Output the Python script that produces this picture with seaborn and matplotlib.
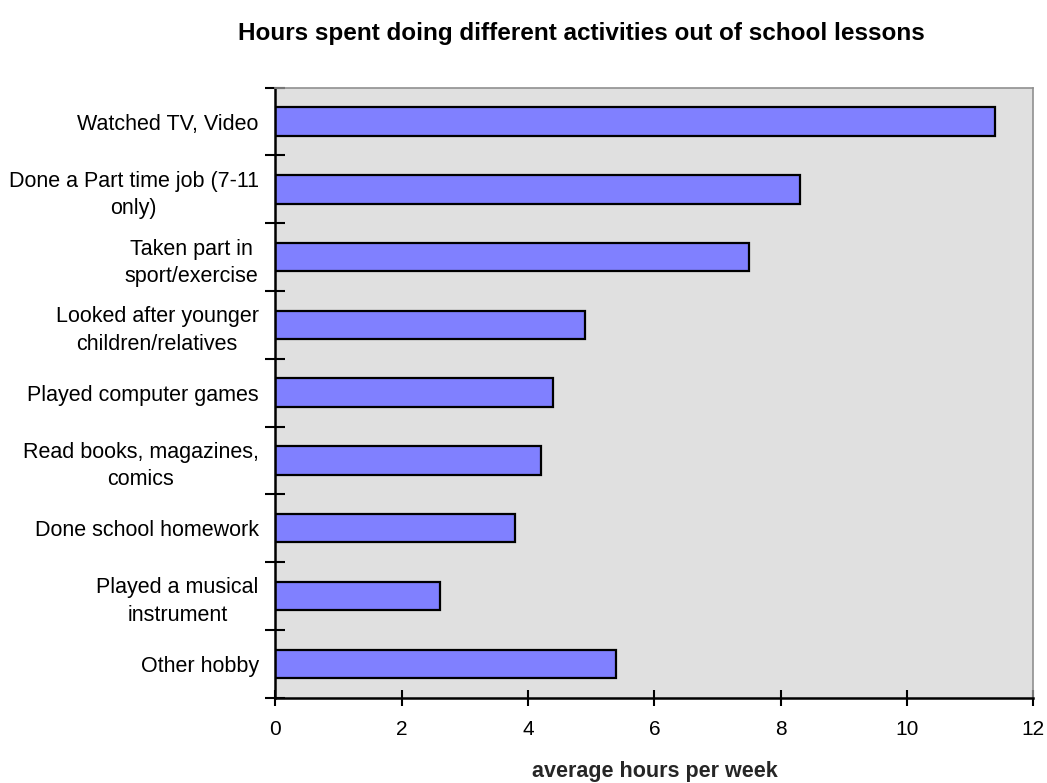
import numpy as np
import pandas as pd
import seaborn as sns
import matplotlib.pyplot as plt

activities = [
    "Watched TV, Video",
    "Done a Part time job (7-11\nonly)",
    "Taken part in\nsport/exercise",
    "Looked after younger\nchildren/relatives",
    "Played computer games",
    "Read books, magazines,\ncomics",
    "Done school homework",
    "Played a musical\ninstrument",
    "Other hobby",
]
hours = [11.4, 8.3, 7.5, 4.9, 4.4, 4.2, 3.8, 2.6, 5.4]
x_ticks = [0, 2, 4, 6, 8, 10, 12]

df = pd.DataFrame({"activity": activities, "hours": hours})

sns.set_style("white")
plt.rcParams["font.family"] = ["Liberation Sans", "DejaVu Sans"]
plt.rcParams["text.color"] = "black"
plt.rcParams["xtick.color"] = "black"
plt.rcParams["ytick.color"] = "black"

fig = plt.figure(figsize=(10.47, 7.83), dpi=100)
ax = fig.add_axes([0.263, 0.109, 0.724, 0.779])
ax.set_facecolor("#e0e0e0")

sns.barplot(data=df, x="hours", y="activity", color="#8080ff", width=0.42,
            edgecolor="black", linewidth=1.6, saturation=1, ax=ax)

ax.set_xlim(0, 12)
ax.set_ylim(len(activities) - 0.5, -0.5)
ax.set_xticks(x_ticks)
ax.set_xticklabels([str(t) for t in x_ticks], fontsize=15)
ax.tick_params(axis="x", bottom=True, direction="inout", length=12, width=1.5, pad=10)

# category labels without ticks, tick marks at category boundaries
ax.set_yticks(range(len(activities)))
ax.set_yticklabels(activities, fontsize=15.5, linespacing=1.4)
for lab in ax.get_yticklabels():
    lab.set_multialignment("center")
ax.tick_params(axis="y", which="major", left=True, length=0, pad=12)
ax.set_yticks(np.arange(-0.5, len(activities), 1), minor=True)
ax.tick_params(axis="y", which="minor", left=True, direction="inout", length=14, width=1.5)

for side in ["left", "bottom"]:
    ax.spines[side].set_color("black")
    ax.spines[side].set_linewidth(1.8)
for side in ["top", "right"]:
    ax.spines[side].set_visible(True)
    ax.spines[side].set_color("#909090")
    ax.spines[side].set_linewidth(1.2)

ax.set_ylabel("")
ax.set_xlabel("average hours per week", fontsize=15.5, fontweight="bold", labelpad=16)
fig.suptitle("Hours spent doing different activities out of school lessons",
             x=0.555, y=0.972, fontsize=17.5, fontweight="bold")

fig.savefig("out.png", dpi=100, facecolor="white")
